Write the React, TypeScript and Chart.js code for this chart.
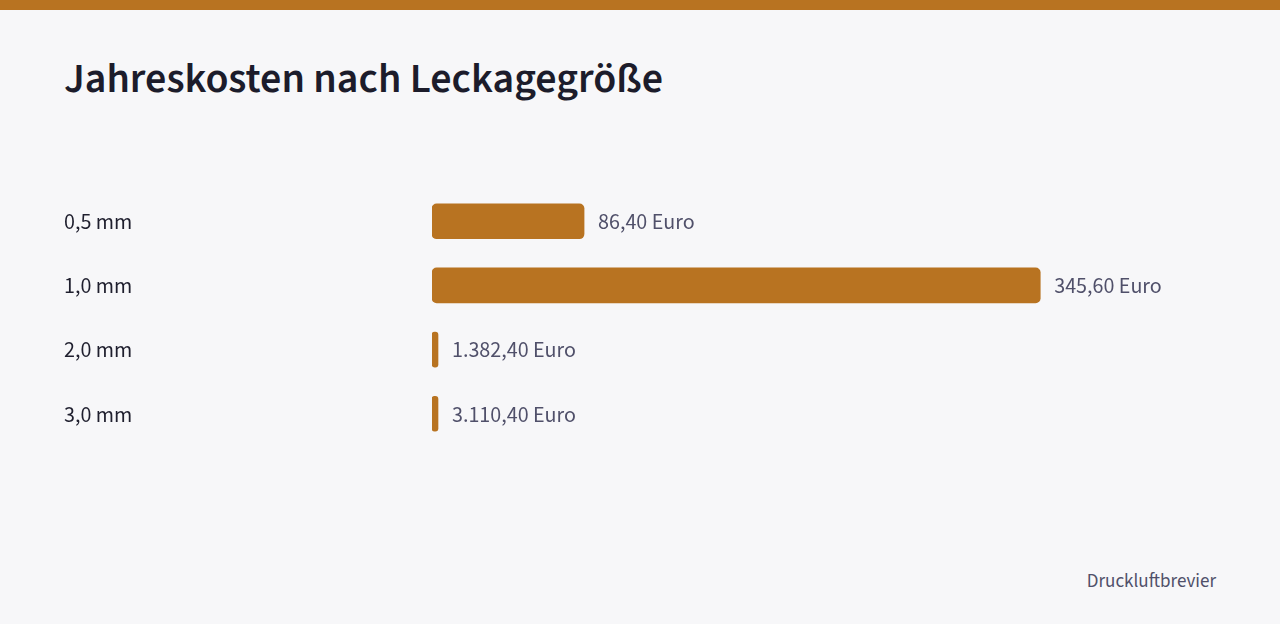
import { Chart, registerables } from "chart.js";
import React, { useEffect, useRef } from "react";

Chart.register(...registerables);

const categories = ["0,5 mm", "1,0 mm", "2,0 mm", "3,0 mm"];
// bar lengths as drawn in the source chart
const costValues = [86.4, 345.6, 1.3824, 3.1104];
const valueLabels = ["86,40 Euro", "345,60 Euro", "1.382,40 Euro", "3.110,40 Euro"];

const FONT = '"Source Sans 3", "Source Sans Pro", Lato, sans-serif';
const ACCENT = "#B87321";

const App = () => {
  const chartRef = useRef<HTMLCanvasElement>(null);

  useEffect(() => {
    const ctx = chartRef.current?.getContext("2d");
    if (!ctx) return;

    const chart = new Chart(ctx, {
      type: "bar",
      data: {
        labels: categories,
        datasets: [
          {
            data: costValues,
            backgroundColor: ACCENT,
            borderRadius: 5,
            borderSkipped: false,
            barThickness: 35,
            minBarLength: 6,
          },
        ],
      },
      options: {
        indexAxis: "y",
        animation: false,
        responsive: false,
        maintainAspectRatio: false,
        layout: { padding: { right: 80 } },
        scales: {
          x: {
            display: false,
            min: 0,
            max: 400,
          },
          y: {
            grid: { display: false },
            border: { display: false },
            afterFit: (scale) => {
              scale.width = 368;
            },
            ticks: {
              crossAlign: "far",
              padding: 0,
              labelOffset: 3,
              color: "#1f1f2e",
              font: { family: FONT, size: 22 },
            },
          },
        },
        plugins: {
          legend: { display: false },
          tooltip: { enabled: false },
          title: { display: false },
        },
      },
      plugins: [
        {
          id: "valueLabels",
          afterDatasetsDraw: (c) => {
            const g = c.ctx;
            const meta = c.getDatasetMeta(0);
            g.save();
            g.font = `22px ${FONT}`;
            g.fillStyle = "#50506a";
            g.textAlign = "left";
            g.textBaseline = "middle";
            meta.data.forEach((bar, i) => {
              g.fillText(valueLabels[i], bar.x + 14, bar.y + 3);
            });
            g.restore();
          },
        },
      ],
    });

    return () => {
      chart.destroy();
    };
  }, []);

  return (
    <div
      style={{
        position: "fixed",
        inset: 0,
        width: 1280,
        height: 624,
        background: "#F7F7F9",
        fontFamily: FONT,
        overflow: "hidden",
      }}
    >
      <div style={{ position: "absolute", left: 0, top: 0, width: 1280, height: 10, background: ACCENT }} />
      <div
        style={{
          position: "absolute",
          left: 64,
          top: 54,
          fontSize: 42,
          fontWeight: 600,
          color: "#1c1c2b",
          lineHeight: "50px",
        }}
      >
        Jahreskosten nach Leckagegröße
      </div>
      <canvas
        ref={chartRef}
        width={1152}
        height={283}
        style={{ position: "absolute", left: 64, top: 176, width: 1152, height: 283 }}
      ></canvas>
      <div
        style={{
          position: "absolute",
          right: 64,
          top: 569,
          fontSize: 19,
          color: "#50506a",
          lineHeight: "26px",
        }}
      >
        Druckluftbrevier
      </div>
    </div>
  );
};

export default App;
